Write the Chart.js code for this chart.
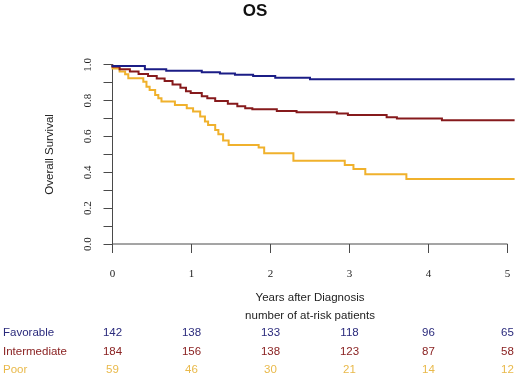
<!DOCTYPE html>
<html>
<head>
<meta charset="utf-8">
<title>OS</title>
<script src="https://cdn.jsdelivr.net/npm/chart.js@4.4.1/dist/chart.umd.min.js"></script>
<style>
  html, body { margin: 0; padding: 0; background: #fff; }
</style>
</head>
<body>
<canvas id="myChart" width="520" height="379"></canvas>
<script>
// Kaplan-Meier steps (time in years, survival after the drop)
const favTime = [0, 0.41, 0.68, 1.13, 1.36, 1.55, 1.78, 2.06, 2.50, 2.90, 5.09]
const favSurv = [1.0, 0.994, 0.975, 0.967, 0.959, 0.952, 0.945, 0.937, 0.928, 0.919, 0.919]

const intTime = [0, 0.09, 0.22, 0.33, 0.45, 0.56, 0.66, 0.76, 0.86, 0.93, 0.99, 1.13, 1.20, 1.30, 1.46, 1.58, 1.68, 1.77, 2.08, 2.33, 2.84, 2.98, 3.47, 3.60, 4.17, 4.30, 5.09]
const intSurv = [1.0, 0.989, 0.975, 0.962, 0.948, 0.938, 0.924, 0.910, 0.890, 0.872, 0.852, 0.843, 0.825, 0.814, 0.798, 0.783, 0.768, 0.758, 0.752, 0.742, 0.735, 0.728, 0.720, 0.708, 0.700, 0.691, 0.691]

const poorTime = [0, 0.09, 0.16, 0.20, 0.39, 0.43, 0.47, 0.54, 0.58, 0.62, 0.79, 0.94, 1.02, 1.11, 1.17, 1.21, 1.30, 1.34, 1.40, 1.47, 1.85, 1.92, 2.29, 2.94, 3.05, 3.20, 3.72, 4.23, 5.09]
const poorSurv = [1.0, 0.980, 0.962, 0.947, 0.925, 0.906, 0.878, 0.859, 0.831, 0.813, 0.795, 0.776, 0.758, 0.739, 0.711, 0.683, 0.664, 0.636, 0.612, 0.578, 0.553, 0.539, 0.506, 0.465, 0.441, 0.418, 0.389, 0.363, 0.363]

// at-risk table
const groups = ['Favorable', 'Intermediate', 'Poor']
const riskYears = [0, 1, 2, 3, 4, 5]
const favRisk = [142, 138, 133, 118, 96, 65]
const intRisk = [184, 156, 138, 123, 87, 58]
const poorRisk = [59, 46, 30, 21, 14, 12]

const lineColors = ['#1b1d86', '#861a1c', '#f0b12c']
const textColors = ['#2a2a7c', '#8a2222', '#e9b94a']
const axisColor = '#4a4a4a'
const sans = '"Liberation Sans", Arial, sans-serif'
const serif = '"Liberation Serif", "Times New Roman", serif'

function toPoints(t, s){
  return t.map(function(v, i){ return {x: v, y: s[i]} })
}

const extras = {
  id: 'extras',
  beforeDatasetsDraw(chart){
    const ctx = chart.ctx
    const xs = chart.scales.x
    const ys = chart.scales.y
    const x0 = xs.getPixelForValue(0)
    const y0 = ys.getPixelForValue(0)
    ctx.save()
    ctx.strokeStyle = axisColor
    ctx.lineWidth = 1
    ctx.beginPath()
    ctx.moveTo(x0, y0)
    ctx.lineTo(xs.getPixelForValue(5), y0)
    ctx.moveTo(x0, y0)
    ctx.lineTo(x0, ys.getPixelForValue(1))
    ctx.stroke()
    ctx.restore()
  },
  afterDraw(chart){
    const ctx = chart.ctx
    const xs = chart.scales.x
    ctx.save()
    ctx.textBaseline = 'middle'

    ctx.fillStyle = '#111'
    ctx.textAlign = 'center'
    ctx.font = 'bold 17px ' + sans
    ctx.fillText('OS', 255, 11)

    const mid = xs.getPixelForValue(2.5)
    ctx.fillStyle = '#222'
    ctx.font = '11.5px ' + sans
    ctx.fillText('Years after Diagnosis', mid, 298)
    ctx.fillText('number of at-risk patients', mid, 316)

    const rows = [favRisk, intRisk, poorRisk]
    const rowY = [333, 352, 370]
    rows.forEach(function(row, r){
      ctx.fillStyle = textColors[r]
      ctx.textAlign = 'left'
      ctx.fillText(groups[r], 3, rowY[r])
      ctx.textAlign = 'center'
      row.forEach(function(n, i){
        ctx.fillText(String(n), xs.getPixelForValue(riskYears[i]), rowY[r])
      })
    })
    ctx.restore()
  }
}

const data = {
  datasets: [{
    label: groups[0],
    data: toPoints(favTime, favSurv),
    borderColor: lineColors[0]
  }, {
    label: groups[1],
    data: toPoints(intTime, intSurv),
    borderColor: lineColors[1]
  }, {
    label: groups[2],
    data: toPoints(poorTime, poorSurv),
    borderColor: lineColors[2]
  }]
}

const config = {
  type: 'line',
  data,
  options: {
    responsive: false,
    animation: false,
    layout: { padding: { top: 64.8, right: 4.6, left: 0, bottom: 0 } },
    elements: {
      line: { borderWidth: 2, stepped: 'after', fill: false, tension: 0 },
      point: { radius: 0 }
    },
    datasets: { line: { clip: false } },
    plugins: {
      legend: { display: false },
      tooltip: { enabled: false },
      title: { display: false }
    },
    scales: {
      x: {
        type: 'linear',
        min: 0,
        max: 5.1,
        border: { display: false },
        grid: { drawOnChartArea: false, drawTicks: true, tickLength: 9, color: axisColor, lineWidth: 1 },
        ticks: {
          stepSize: 1,
          includeBounds: false,
          maxRotation: 0,
          padding: 15,
          color: '#222',
          font: { family: serif, size: 11 },
          callback: function(v){ return v <= 5 ? String(v) : '' }
        },
        afterFit: function(scale){
          scale.height = 135
          scale.paddingLeft = 0
          scale.paddingRight = 0
        }
      },
      y: {
        type: 'linear',
        min: 0,
        max: 1,
        border: { display: false },
        grid: { drawOnChartArea: false, drawTicks: true, tickLength: 9, color: axisColor, lineWidth: 1 },
        ticks: {
          stepSize: 0.1,
          minRotation: 90,
          maxRotation: 90,
          crossAlign: 'center',
          padding: 9,
          color: '#222',
          font: { family: serif, size: 11 },
          callback: function(v){ return Math.round(v * 10) % 2 === 0 ? v.toFixed(1) : '' }
        },
        title: {
          display: true,
          text: 'Overall Survival',
          color: '#222',
          font: { family: sans, size: 11.5 },
          padding: { top: 43, bottom: 0 }
        },
        afterFit: function(scale){ scale.width = 112.5 }
      }
    }
  },
  plugins: [extras]
}

const myChart = new Chart(document.getElementById('myChart'), config)
</script>
</body>
</html>
